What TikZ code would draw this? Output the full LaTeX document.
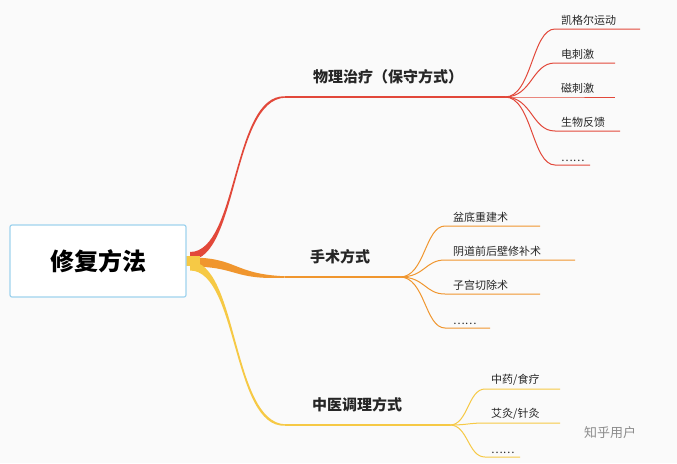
\documentclass[tikz,border=0pt]{standalone}
\usepackage{fontspec}
\newfontfamily\cjk{Noto Sans CJK SC}
\definecolor{cred}{HTML}{E2483A}
\definecolor{corg}{HTML}{F0962E}
\definecolor{cyel}{HTML}{F6C945}
\definecolor{cbd}{HTML}{9FD3EE}
\begin{document}
\begin{tikzpicture}[x=1pt,y=-1pt,
  lbl/.style={font=\cjk\fontsize{11}{13}\selectfont, text=black!85, anchor=south west, inner sep=1pt},
  br/.style={font=\cjk\bfseries\fontsize{15}{17}\selectfont, text=black!85, anchor=south, inner sep=2pt}]
\useasboundingbox (0,0) rectangle (677,463);
\fill[black!2] (0,0) rectangle (677,463);
% branches
\newcommand{\taper}[4]{\fill[#4] (190,#1-#3) .. controls (238,#1-#3) and (232,#2-0.7*#3) .. (285,#2-0.7) -- (285,#2+0.7) .. controls (232,#2+0.7*#3) and (238,#1+#3) .. (190,#1+#3) -- cycle;}
\taper{256}{97}{4}{cred}
\taper{262}{277}{4.5}{corg}
\taper{266}{425}{4.5}{cyel}
\fill[cyel] (184,256) rectangle (200,266);
\node[draw=cbd, line width=1.2pt, fill=white, rounded corners=2pt, minimum width=176pt, minimum height=72pt, font=\cjk\bfseries\fontsize{24}{28}\selectfont] (root) at (98,261) {修复方法};
\coordinate (r1) at (285,97); \coordinate (r2) at (505,97);
\coordinate (o1) at (285,277); \coordinate (o2) at (400,277);
\coordinate (y1) at (285,425); \coordinate (y2) at (450,425);
\draw[cred, line width=1.2pt] (r1) -- (r2);
\draw[corg, line width=1.2pt] (o1) -- (o2);
\draw[cyel, line width=1.2pt] (y1) -- (y2);
\node[br] (b1) at (388,86) {物理治疗（保守方式）};
\node[br] (b2) at (340,266) {手术方式};
\node[br] (b3) at (357,414) {中医调理方式};
% children
\foreach \yy/\ee/\tt in {29/640/{凯格尔运动}, 63/615/{电刺激}, 97/615/{磁刺激}, 131/620/{生物反馈}, 165/590/{……}}{
  \coordinate (c) at (555,\yy);
  \draw[cred, line width=1pt] (r2) .. controls (532,97) and (532,\yy) .. (c) -- (\ee,\yy);
  \node[lbl] at (560,\yy-2) {\tt};
}
\foreach \yy/\ee/\tt in {226/540/{盆底重建术}, 260/575/{阴道前后壁修补术}, 294/540/{子宫切除术}, 328/490/{……}}{
  \coordinate (c) at (445,\yy);
  \draw[corg, line width=1pt] (o2) .. controls (425,277) and (425,\yy) .. (c) -- (\ee,\yy);
  \node[lbl] at (452,\yy-2) {\tt};
}
\foreach \yy/\ee/\tt in {389/560/{中药/食疗}, 423/560/{艾灸/针灸}, 457/520/{……}}{
  \coordinate (c) at (485,\yy);
  \draw[cyel, line width=1pt] (y2) .. controls (468,425) and (468,\yy) .. (c) -- (\ee,\yy);
  \node[lbl] at (490,\yy-2) {\tt};
}
\node[font=\cjk\fontsize{13}{15}\selectfont, text=black!45] (wm) at (610,433) {知乎用户};
\end{tikzpicture}
\end{document}
